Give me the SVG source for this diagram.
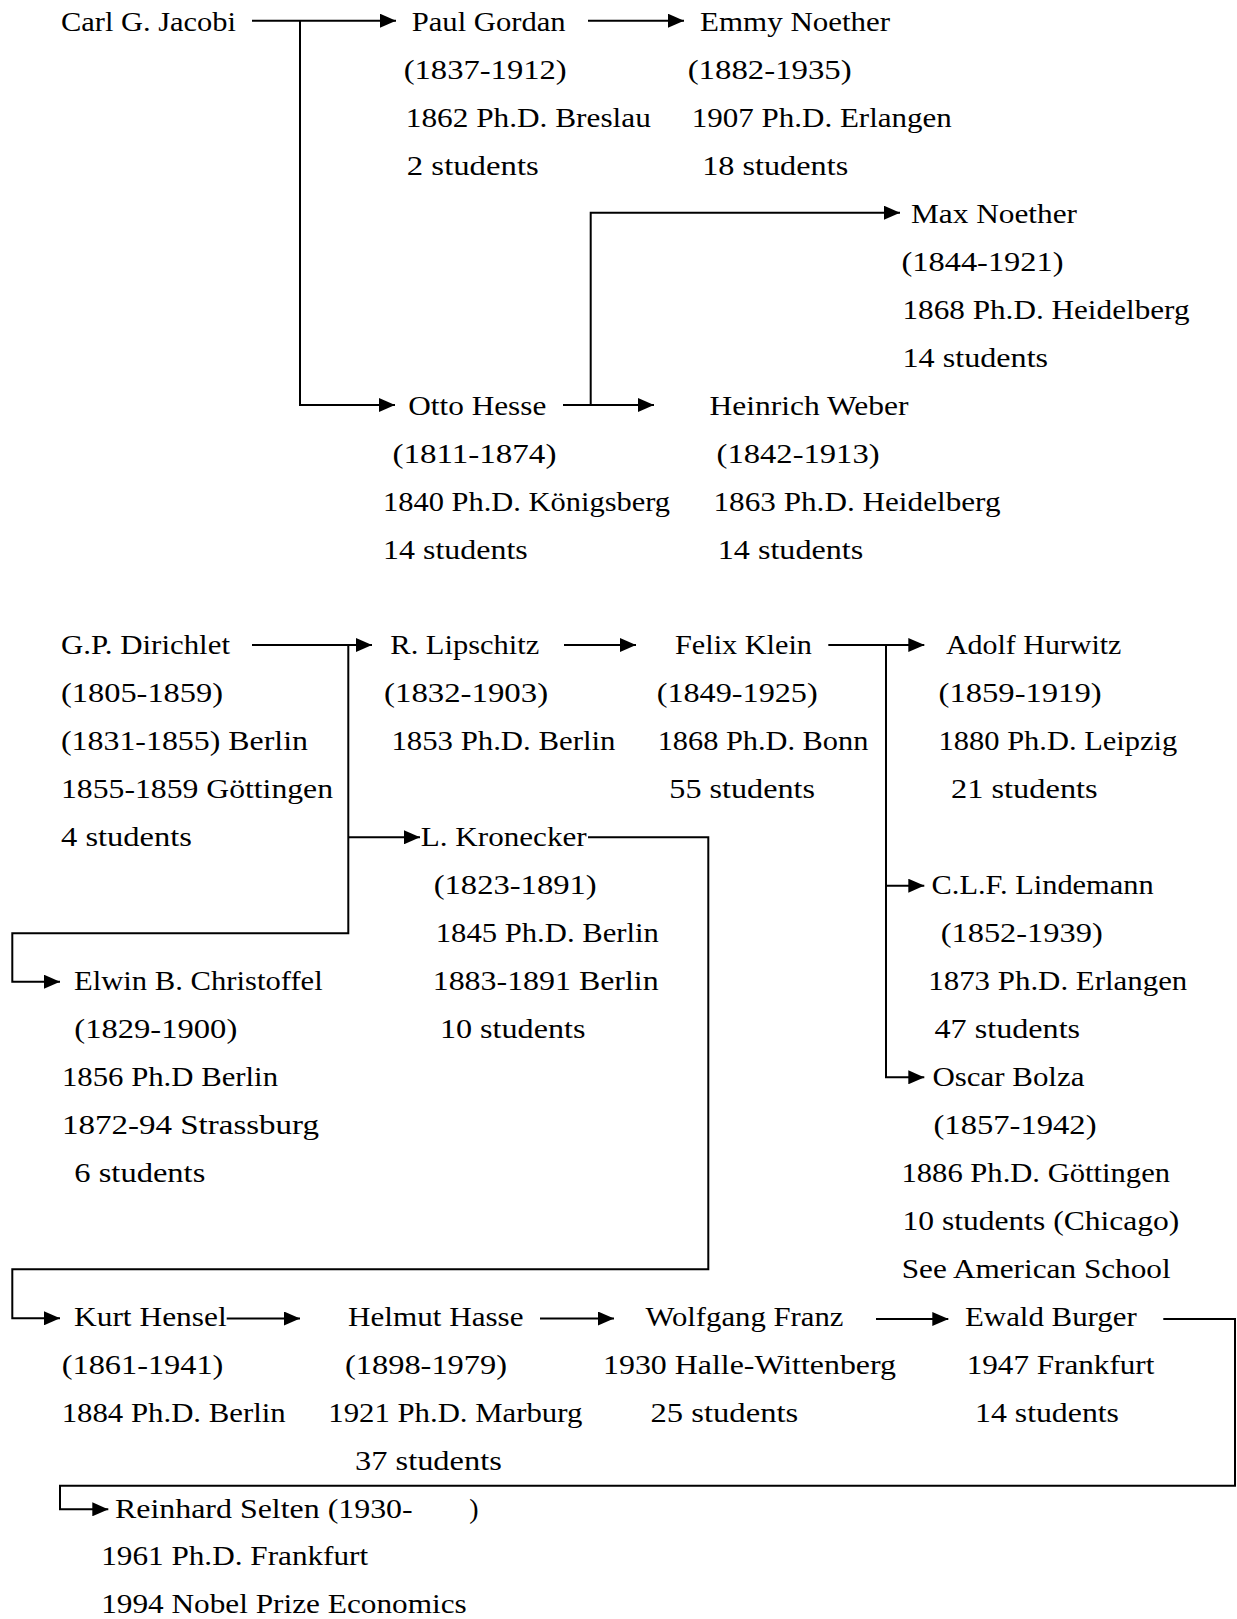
<svg xmlns="http://www.w3.org/2000/svg" width="1237" height="1619" viewBox="0 0 1237 1619">
  <style>
    text { font-family: "Liberation Serif", "Times New Roman", serif; font-size: 28px; fill: #000; }
    .c { fill: none; stroke: #000; stroke-width: 2; }
    .a { marker-end: url(#ah); }
  </style>
  <defs>
    <marker id="ah" markerUnits="userSpaceOnUse" markerWidth="16" markerHeight="14" refX="16" refY="7" orient="auto">
      <path d="M0,0 L16,7 L0,14 Z" fill="#000"/>
    </marker>
  </defs>
  <rect width="1237" height="1619" fill="#fff"/>

  <!-- connectors -->
  <g id="connectors">
    <path class="c a" d="M252,20.7 H396"/>
    <path class="c a" d="M300,20.7 V405 H395"/>
    <path class="c a" d="M588,20.7 H684"/>
    <path class="c a" d="M563,405 H654"/>
    <path class="c a" d="M590.7,405 V212.7 H900"/>
    <path class="c a" d="M252,645 H372"/>
    <path class="c a" d="M348.3,645 V933.3 H12.3 V981.7 H60"/>
    <path class="c a" d="M348.3,837.3 H420"/>
    <path class="c a" d="M564,645 H636"/>
    <path class="c a" d="M828.3,645 H924.3"/>
    <path class="c a" d="M886,645 V1077.3 H924.3"/>
    <path class="c a" d="M886,885.7 H924.3"/>
    <path class="c a" d="M588,837.3 H708.3 V1269.3 H12.3 V1318.3 H60"/>
    <path class="c a" d="M226.7,1318.5 H300"/>
    <path class="c a" d="M540,1318.5 H614"/>
    <path class="c a" d="M876,1319 H948.3"/>
    <path class="c a" d="M1163.3,1319 H1235 V1485.7 H60 V1509.3 H108.3"/>
  </g>

  <!-- Jacobi line -->
  <g id="jacobi">
    <text x="61" y="31" textLength="175" lengthAdjust="spacingAndGlyphs">Carl G. Jacobi</text>
  </g>
  <g id="gordan">
    <text x="411.7" y="31" textLength="154" lengthAdjust="spacingAndGlyphs">Paul Gordan</text>
    <text x="403.7" y="79" textLength="163" lengthAdjust="spacingAndGlyphs">(1837-1912)</text>
    <text x="405.8" y="126.9" textLength="245" lengthAdjust="spacingAndGlyphs">1862 Ph.D. Breslau</text>
    <text x="406.8" y="174.9" textLength="132" lengthAdjust="spacingAndGlyphs">2 students</text>
  </g>
  <g id="emmy-noether">
    <text x="700.1" y="31" textLength="190" lengthAdjust="spacingAndGlyphs">Emmy Noether</text>
    <text x="687.7" y="79" textLength="164" lengthAdjust="spacingAndGlyphs">(1882-1935)</text>
    <text x="691.8" y="126.9" textLength="260" lengthAdjust="spacingAndGlyphs">1907 Ph.D. Erlangen</text>
    <text x="702.2" y="174.9" textLength="146" lengthAdjust="spacingAndGlyphs">18 students</text>
  </g>
  <g id="max-noether">
    <text x="911" y="222.8" textLength="166" lengthAdjust="spacingAndGlyphs">Max Noether</text>
    <text x="901.5" y="270.8" textLength="162" lengthAdjust="spacingAndGlyphs">(1844-1921)</text>
    <text x="902.5" y="318.7" textLength="287" lengthAdjust="spacingAndGlyphs">1868 Ph.D. Heidelberg</text>
    <text x="902.5" y="366.7" textLength="145.6" lengthAdjust="spacingAndGlyphs">14 students</text>
  </g>
  <g id="hesse">
    <text x="408.3" y="414.6" textLength="138" lengthAdjust="spacingAndGlyphs">Otto Hesse</text>
    <text x="392.4" y="462.6" textLength="164" lengthAdjust="spacingAndGlyphs">(1811-1874)</text>
    <text x="383.1" y="510.5" textLength="287" lengthAdjust="spacingAndGlyphs">1840 Ph.D. Königsberg</text>
    <text x="383.1" y="558.5" textLength="144.6" lengthAdjust="spacingAndGlyphs">14 students</text>
  </g>
  <g id="weber">
    <text x="709.4" y="414.6" textLength="199" lengthAdjust="spacingAndGlyphs">Heinrich Weber</text>
    <text x="716.6" y="462.6" textLength="163" lengthAdjust="spacingAndGlyphs">(1842-1913)</text>
    <text x="713.5" y="510.5" textLength="287" lengthAdjust="spacingAndGlyphs">1863 Ph.D. Heidelberg</text>
    <text x="717.7" y="558.5" textLength="145.6" lengthAdjust="spacingAndGlyphs">14 students</text>
  </g>

  <!-- Dirichlet line -->
  <g id="dirichlet">
    <text x="61" y="654.4" textLength="169" lengthAdjust="spacingAndGlyphs">G.P. Dirichlet</text>
    <text x="61" y="702.3" textLength="162" lengthAdjust="spacingAndGlyphs">(1805-1859)</text>
    <text x="61" y="750.3" textLength="247" lengthAdjust="spacingAndGlyphs">(1831-1855) Berlin</text>
    <text x="61" y="798.2" textLength="272" lengthAdjust="spacingAndGlyphs">1855-1859 Göttingen</text>
    <text x="61" y="846.2" textLength="131" lengthAdjust="spacingAndGlyphs">4 students</text>
  </g>
  <g id="lipschitz">
    <text x="390.3" y="654.4" textLength="149" lengthAdjust="spacingAndGlyphs">R. Lipschitz</text>
    <text x="384.1" y="702.3" textLength="164" lengthAdjust="spacingAndGlyphs">(1832-1903)</text>
    <text x="391.4" y="750.3" textLength="224" lengthAdjust="spacingAndGlyphs">1853 Ph.D. Berlin</text>
  </g>
  <g id="klein">
    <text x="675" y="654.4" textLength="137" lengthAdjust="spacingAndGlyphs">Felix Klein</text>
    <text x="656.7" y="702.3" textLength="161" lengthAdjust="spacingAndGlyphs">(1849-1925)</text>
    <text x="657.7" y="750.3" textLength="210.6" lengthAdjust="spacingAndGlyphs">1868 Ph.D. Bonn</text>
    <text x="669.3" y="798.2" textLength="145.7" lengthAdjust="spacingAndGlyphs">55 students</text>
  </g>
  <g id="hurwitz">
    <text x="945.9" y="654.4" textLength="175.5" lengthAdjust="spacingAndGlyphs">Adolf Hurwitz</text>
    <text x="938.6" y="702.3" textLength="163" lengthAdjust="spacingAndGlyphs">(1859-1919)</text>
    <text x="938.6" y="750.3" textLength="238.6" lengthAdjust="spacingAndGlyphs">1880 Ph.D. Leipzig</text>
    <text x="951" y="798.2" textLength="146.7" lengthAdjust="spacingAndGlyphs">21 students</text>
  </g>
  <g id="kronecker">
    <text x="420.7" y="846.2" textLength="166" lengthAdjust="spacingAndGlyphs">L. Kronecker</text>
    <text x="433.7" y="894.1" textLength="163" lengthAdjust="spacingAndGlyphs">(1823-1891)</text>
    <text x="435.8" y="942.1" textLength="223" lengthAdjust="spacingAndGlyphs">1845 Ph.D. Berlin</text>
    <text x="432.7" y="990" textLength="226" lengthAdjust="spacingAndGlyphs">1883-1891 Berlin</text>
    <text x="439.9" y="1038" textLength="145.6" lengthAdjust="spacingAndGlyphs">10 students</text>
  </g>
  <g id="lindemann">
    <text x="931.6" y="894.1" textLength="222" lengthAdjust="spacingAndGlyphs">C.L.F. Lindemann</text>
    <text x="940.7" y="942.1" textLength="162" lengthAdjust="spacingAndGlyphs">(1852-1939)</text>
    <text x="928.3" y="990" textLength="259" lengthAdjust="spacingAndGlyphs">1873 Ph.D. Erlangen</text>
    <text x="934.5" y="1038" textLength="145.6" lengthAdjust="spacingAndGlyphs">47 students</text>
  </g>
  <g id="christoffel">
    <text x="74" y="990" textLength="248.7" lengthAdjust="spacingAndGlyphs">Elwin B. Christoffel</text>
    <text x="74.3" y="1038" textLength="163" lengthAdjust="spacingAndGlyphs">(1829-1900)</text>
    <text x="62" y="1085.9" textLength="216" lengthAdjust="spacingAndGlyphs">1856 Ph.D Berlin</text>
    <text x="62" y="1133.9" textLength="257" lengthAdjust="spacingAndGlyphs">1872-94 Strassburg</text>
    <text x="74.3" y="1181.8" textLength="131" lengthAdjust="spacingAndGlyphs">6 students</text>
  </g>
  <g id="bolza">
    <text x="932.4" y="1085.9" textLength="152" lengthAdjust="spacingAndGlyphs">Oscar Bolza</text>
    <text x="933.5" y="1133.9" textLength="163" lengthAdjust="spacingAndGlyphs">(1857-1942)</text>
    <text x="901.5" y="1181.8" textLength="268.5" lengthAdjust="spacingAndGlyphs">1886 Ph.D. Göttingen</text>
    <text x="902.5" y="1229.8" textLength="276.7" lengthAdjust="spacingAndGlyphs">10 students (Chicago)</text>
    <text x="901.7" y="1277.7" textLength="269" lengthAdjust="spacingAndGlyphs">See American School</text>
  </g>

  <!-- Hensel line -->
  <g id="hensel">
    <text x="74" y="1325.7" textLength="152.7" lengthAdjust="spacingAndGlyphs">Kurt Hensel</text>
    <text x="61.7" y="1373.6" textLength="161.7" lengthAdjust="spacingAndGlyphs">(1861-1941)</text>
    <text x="61.7" y="1421.6" textLength="224" lengthAdjust="spacingAndGlyphs">1884 Ph.D. Berlin</text>
  </g>
  <g id="hasse">
    <text x="348" y="1325.7" textLength="175.5" lengthAdjust="spacingAndGlyphs">Helmut Hasse</text>
    <text x="345" y="1373.6" textLength="162" lengthAdjust="spacingAndGlyphs">(1898-1979)</text>
    <text x="328.3" y="1421.6" textLength="254" lengthAdjust="spacingAndGlyphs">1921 Ph.D. Marburg</text>
    <text x="355" y="1469.5" textLength="146.8" lengthAdjust="spacingAndGlyphs">37 students</text>
  </g>
  <g id="franz">
    <text x="645.4" y="1325.7" textLength="198" lengthAdjust="spacingAndGlyphs">Wolfgang Franz</text>
    <text x="603" y="1373.6" textLength="293" lengthAdjust="spacingAndGlyphs">1930 Halle-Wittenberg</text>
    <text x="650.5" y="1421.6" textLength="147.7" lengthAdjust="spacingAndGlyphs">25 students</text>
  </g>
  <g id="burger">
    <text x="965" y="1325.7" textLength="171.7" lengthAdjust="spacingAndGlyphs">Ewald Burger</text>
    <text x="966.7" y="1373.6" textLength="187.7" lengthAdjust="spacingAndGlyphs">1947 Frankfurt</text>
    <text x="975" y="1421.6" textLength="144" lengthAdjust="spacingAndGlyphs">14 students</text>
  </g>
  <g id="selten">
    <text x="115" y="1517.5"><tspan textLength="297.7" lengthAdjust="spacingAndGlyphs">Reinhard Selten (1930-</tspan><tspan x="469.3">)</tspan></text>
    <text x="101.2" y="1565.4" textLength="267" lengthAdjust="spacingAndGlyphs">1961 Ph.D. Frankfurt</text>
    <text x="101.2" y="1613.4" textLength="365.5" lengthAdjust="spacingAndGlyphs">1994 Nobel Prize Economics</text>
  </g>
</svg>
